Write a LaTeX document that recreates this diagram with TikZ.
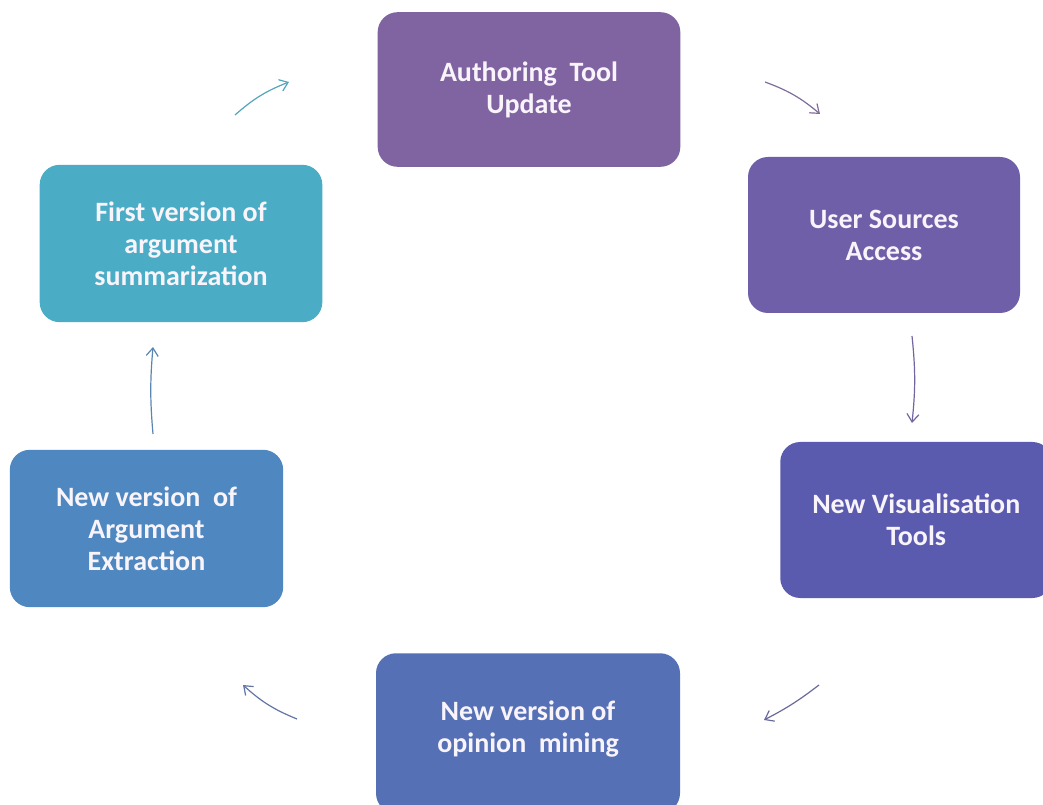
\documentclass[tikz,border=0pt]{standalone}
\usepackage{fontspec}
\setmainfont{Carlito}
\usetikzlibrary{arrows.meta}
\definecolor{cA}{HTML}{8064A2}
\definecolor{cB}{HTML}{6F5FA8}
\definecolor{cC}{HTML}{5A5BAE}
\definecolor{cD}{HTML}{5670B6}
\definecolor{cE}{HTML}{4F87C0}
\definecolor{cF}{HTML}{4BACC6}
\definecolor{txt}{HTML}{F8F4FA}
\tikzset{
  lbl/.style={text=txt, font=\bfseries\fontsize{21}{24}\selectfont, align=center},
  box/.style={lbl, rounded corners=15pt, inner sep=0pt},
  conn/.style={line width=0.9pt, -{Straight Barb[length=6pt,width=9pt]}},
}
\begin{document}
\begin{tikzpicture}[x=0.75pt,y=-0.75pt]
\useasboundingbox (0,0) rectangle (1043,805);
\fill[white] (0,0) rectangle (1043,805);
\node[box, fill=cA, minimum width=227pt, minimum height=116pt] (auth) at (529,89.5) {Authoring\ \ Tool\\Update};
\node[box, fill=cB, minimum width=204pt, minimum height=117pt] (user) at (884,235) {User Sources\\Access};
\node[box, fill=cC, minimum width=204pt, minimum height=117pt, anchor=west] (vis) at (780,520) {New Visualisation\\Tools};
\node[box, fill=cD, minimum width=228pt, minimum height=120pt, anchor=north] (op) at (528,653) {};
\node[lbl] (optext) at (528,729) {New version of\\opinion\ \ mining};
\node[box, fill=cE, minimum width=205pt, minimum height=118pt] (arg) at (146.5,528.5) {New version\ \ of\\Argument\\Extraction};
\node[box, fill=cF, minimum width=212pt, minimum height=118pt] (first) at (181,243.5) {First version of\\argument\\summarization};
\coordinate (a1s) at (235,115); \coordinate (a1e) at (289,82);
\coordinate (a2s) at (765,82); \coordinate (a2e) at (820,114);
\coordinate (a3s) at (912,336); \coordinate (a3e) at (912,423);
\coordinate (a4s) at (819,685); \coordinate (a4e) at (764,720);
\coordinate (a5s) at (297,719); \coordinate (a5e) at (243,685);
\coordinate (a6s) at (153,434); \coordinate (a6e) at (153,347);
\draw[conn, draw=cF!85!gray] (a1s) to[bend left=10] (a1e);
\draw[conn, draw=cA!70!gray] (a2s) to[bend left=10] (a2e);
\draw[conn, draw=cB!80!gray] (a3s) to[bend left=6] (a3e);
\draw[conn, draw=cC!60!gray] (a4s) to[bend left=5] (a4e);
\draw[conn, draw=cD!70!gray] (a5s) to[bend left=10] (a5e);
\draw[conn, draw=cE!80!gray] (a6s) to[bend left=5] (a6e);
\end{tikzpicture}
\end{document}
